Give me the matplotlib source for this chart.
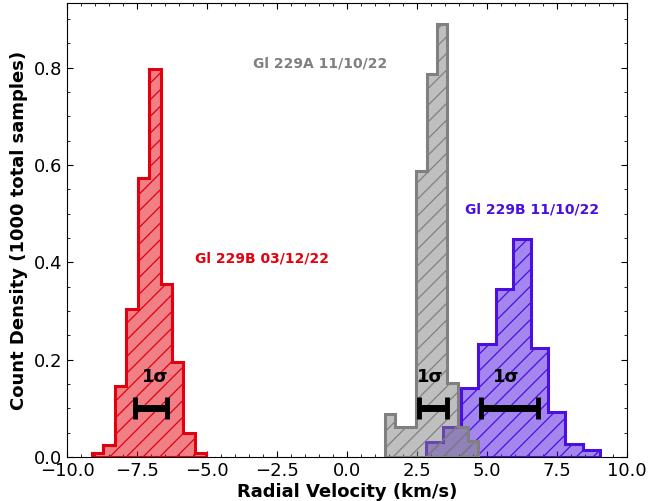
import numpy as np
import matplotlib
matplotlib.use("Agg")
import matplotlib.pyplot as plt
from matplotlib.ticker import MultipleLocator

# Histogram data (bin edges and density heights)
red_edges = [-9.12, -8.71, -8.30, -7.89, -7.48, -7.07, -6.66, -6.25, -5.85, -5.44, -5.04]
red_heights = [0.009, 0.025, 0.146, 0.304, 0.573, 0.797, 0.356, 0.196, 0.049, 0.008]

gray_edges = [1.357, 1.727, 2.098, 2.468, 2.838, 3.209, 3.579, 3.949, 4.320, 4.690]
gray_heights = [0.0875, 0.062, 0.062, 0.587, 0.788, 0.889, 0.151, 0.062, 0.032]

purple_edges = [2.81, 3.43, 4.05, 4.68, 5.30, 5.92, 6.55, 7.17, 7.79, 8.42, 9.04]
purple_heights = [0.031, 0.061, 0.141, 0.232, 0.345, 0.447, 0.224, 0.092, 0.027, 0.014]

# 1-sigma error bars: centre, half-width
sig_x = [-7.0, 3.08, 5.80]
sig_err = [0.56, 0.50, 1.03]
sig_y = 0.10
sig_text_x = [-6.86, 2.96, 5.68]
sig_text_y = 0.165

labels = ["Gl 229B 03/12/22", "Gl 229A 11/10/22", "Gl 229B 11/10/22"]
label_x = [-3.04, -0.96, 6.6]
label_y = [0.408, 0.808, 0.509]

RED = "#e3000f"
GRAY = "#808080"
PURPLE = "#4b0fe0"
colors = [RED, GRAY, PURPLE]

plt.rcParams["hatch.linewidth"] = 0.9

fig = plt.figure(figsize=(6.65, 5.01), dpi=100)
ax = fig.add_axes([0.101, 0.088, 0.842, 0.906])

def draw_hist(edges, heights, color, z):
    edges = np.array(edges)
    centers = (edges[:-1] + edges[1:]) / 2
    ax.hist(centers, bins=edges, weights=heights, histtype="stepfilled",
            facecolor=matplotlib.colors.to_rgba(color, 0.5), edgecolor=color,
            hatch="//", linewidth=2.2, zorder=z)

draw_hist(red_edges, red_heights, RED, 2)
draw_hist(purple_edges, purple_heights, PURPLE, 2)
draw_hist(gray_edges, gray_heights, GRAY, 3)

for x, e, tx in zip(sig_x, sig_err, sig_text_x):
    ax.errorbar(x, sig_y, xerr=e, color="black", elinewidth=5, capsize=8,
                capthick=3.5, zorder=5)
    ax.text(tx, sig_text_y, "1σ", fontsize=13, fontweight="bold",
            ha="center", va="center", zorder=6)

for t, x, y, c in zip(labels, label_x, label_y, colors):
    ax.text(x, y, t, color=c, fontsize=10, fontweight="bold",
            ha="center", va="center")

ax.set_xlim(-10, 10)
ax.set_ylim(0, 0.933)
ax.xaxis.set_major_locator(MultipleLocator(2.5))
ax.xaxis.set_minor_locator(MultipleLocator(0.5))
ax.yaxis.set_major_locator(MultipleLocator(0.2))
ax.yaxis.set_minor_locator(MultipleLocator(0.05))
ax.tick_params(which="both", direction="in", top=True, right=True, labelsize=13)
ax.tick_params(which="major", length=4)
ax.tick_params(which="minor", length=2)
ax.set_xlabel("Radial Velocity (km/s)", fontsize=13, fontweight="bold", labelpad=2)
ax.set_ylabel("Count Density (1000 total samples)", fontsize=13, fontweight="bold", labelpad=4)

fig.savefig("out.png", dpi=100)
